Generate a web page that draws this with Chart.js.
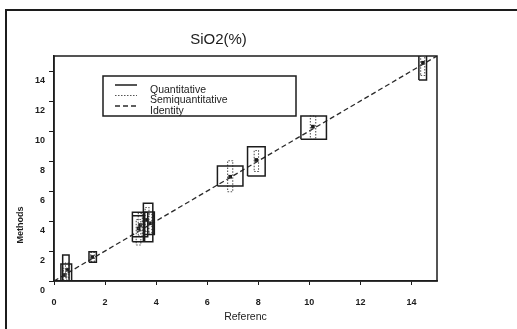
<!DOCTYPE html>
<html>
<head>
<meta charset="utf-8">
<script src="https://cdn.jsdelivr.net/npm/chart.js@4"></script>
<style>
  html, body { margin: 0; padding: 0; background: #fff; }
  #wrap { width: 517px; height: 329px; }
</style>
</head>
<body>
<div id="wrap"><canvas id="chart" width="517" height="329"></canvas></div>
<script>
// SiO2(%) - methods vs reference, one entry per sample
var referenc = [0.42, 0.52, 1.50, 3.31, 3.37, 3.64, 3.76, 6.90, 7.92, 10.14, 14.45];
var methods  = [0.40, 0.75, 1.60, 3.50, 3.73, 4.07, 3.85, 6.95, 8.07, 10.29, 14.55];

// quantitative uncertainty boxes
var quantXLow  = [0.27, 0.34, 1.37, 3.07, 3.07, 3.50, 3.55, 6.40, 7.58, 9.67, 14.29];
var quantXHigh = [0.69, 0.59, 1.66, 3.55, 3.67, 3.87, 3.93, 7.40, 8.27, 10.67, 14.59];
var quantYLow  = [0.00, 0.00, 1.25, 2.62, 2.95, 2.62, 3.10, 6.33, 7.00, 9.45, 13.40];
var quantYHigh = [1.13, 1.73, 1.95, 4.35, 4.58, 5.18, 4.60, 7.67, 8.95, 11.00, 15.60];

// semiquantitative boxes
var semiXLow  = [0.36, 0.45, 1.44, 3.22, 3.30, 3.57, 3.70, 6.80, 7.84, 10.04, 14.36];
var semiXHigh = [0.50, 0.58, 1.58, 3.40, 3.46, 3.72, 3.83, 7.00, 8.01, 10.25, 14.52];
var semiYLow  = [0.05, 0.20, 1.30, 2.40, 3.00, 3.30, 3.20, 5.95, 7.30, 9.45, 13.70];
var semiYHigh = [0.85, 1.20, 1.90, 4.10, 4.50, 4.90, 4.45, 8.02, 8.70, 11.00, 15.30];

var identityX = [0, 15];
var identityY = [0, 15];

var xTicks = [0, 2, 4, 6, 8, 10, 12, 14];
var yTicks = [0, 2, 4, 6, 8, 10, 12, 14];

function boxes(xl, xh, yl, yh) {
    var pts = [];
    for (var i = 0; i < xl.length; i++) {
        pts.push({x: xl[i], y: yl[i]}, {x: xh[i], y: yl[i]}, {x: xh[i], y: yh[i]},
                 {x: xl[i], y: yh[i]}, {x: xl[i], y: yl[i]}, {x: null, y: null});
    }
    return pts;
}

function pairs(xs, ys) {
    return xs.map(function (x, i) { return {x: x, y: ys[i]}; });
}

var INK = '#1c1c1c';
var FONT = "'Liberation Sans', Arial, sans-serif";

var framePlugin = {
    id: 'frame',
    beforeDraw: function (chart) {
        var ctx = chart.ctx;
        ctx.save();
        ctx.fillStyle = '#fff';
        ctx.fillRect(0, 0, chart.width, chart.height);
        ctx.strokeStyle = INK;
        ctx.lineWidth = 2;
        ctx.beginPath();
        ctx.moveTo(6, chart.height);
        ctx.lineTo(6, 10);
        ctx.lineTo(chart.width, 10);
        ctx.stroke();
        ctx.restore();
    },
    afterDraw: function (chart) {
        var ctx = chart.ctx, a = chart.chartArea;
        ctx.save();
        ctx.strokeStyle = INK;
        ctx.lineWidth = 1.5;
        ctx.strokeRect(a.left, a.top, a.right - a.left, a.bottom - a.top);

        // y axis title, sits low beside the axis
        ctx.translate(21, 225);
        ctx.rotate(-Math.PI / 2);
        ctx.fillStyle = INK;
        ctx.font = 'bold 9px ' + FONT;
        ctx.textAlign = 'center';
        ctx.textBaseline = 'middle';
        ctx.fillText(chart.options.scales.y.title.text, 0, 0);
        ctx.restore();
    }
};

var boxLegendPlugin = {
    id: 'boxLegend',
    afterDraw: function (chart) {
        var ctx = chart.ctx;
        var x0 = 103, y0 = 76, w = 193, h = 40;
        var rows = [90, 100.5, 111];
        var items = chart.data.datasets.filter(function (d) { return d.inLegend; });
        ctx.save();
        ctx.beginPath();
        ctx.rect(x0, y0, w, h);
        ctx.clip();
        ctx.fillStyle = '#fff';
        ctx.fillRect(x0, y0, w, h);
        items.forEach(function (d, i) {
            var y = rows[i];
            ctx.strokeStyle = d.borderColor;
            ctx.lineWidth = d.borderWidth;
            ctx.setLineDash(d.borderDash || []);
            ctx.beginPath();
            ctx.moveTo(115, y - 5);
            ctx.lineTo(137, y - 5);
            ctx.stroke();
            ctx.setLineDash([]);
            ctx.fillStyle = INK;
            ctx.font = '10.5px ' + FONT;
            ctx.textBaseline = 'middle';
            ctx.fillText(d.label, 150, y);
        });
        ctx.restore();
        ctx.save();
        ctx.strokeStyle = INK;
        ctx.lineWidth = 1.5;
        ctx.strokeRect(x0, y0, w, h);
        ctx.restore();
    }
};

new Chart('chart', {
    type: 'scatter',
    data: {
        datasets: [
            {
                label: 'Quantitative',
                inLegend: true,
                data: boxes(quantXLow, quantXHigh, quantYLow, quantYHigh),
                showLine: true,
                spanGaps: false,
                borderColor: INK,
                borderWidth: 1.5,
                pointRadius: 0
            },
            {
                label: 'Semiquantitative',
                inLegend: true,
                data: boxes(semiXLow, semiXHigh, semiYLow, semiYHigh),
                showLine: true,
                spanGaps: false,
                borderColor: '#555',
                borderWidth: 1.1,
                borderDash: [1.5, 1.5],
                pointRadius: 0
            },
            {
                label: 'Identity',
                inLegend: true,
                data: pairs(identityX, identityY),
                showLine: true,
                borderColor: '#2a2a2a',
                borderWidth: 1.3,
                borderDash: [5, 3],
                pointRadius: 0
            },
            {
                label: 'Samples',
                data: pairs(referenc, methods),
                pointStyle: 'rect',
                pointRadius: 2.6,
                backgroundColor: INK,
                borderColor: INK,
                borderWidth: 0
            }
        ]
    },
    options: {
        responsive: false,
        animation: false,
        events: [],
        layout: { padding: { left: 0, top: 0, right: 80, bottom: 0 } },
        plugins: {
            legend: { display: false },
            tooltip: { enabled: false },
            title: {
                display: true,
                text: 'SiO2(%)',
                color: INK,
                font: { family: FONT, size: 15, weight: 'normal', lineHeight: 1.2 },
                padding: { top: 31, bottom: 7 }
            }
        },
        scales: {
            x: {
                type: 'linear',
                min: 0,
                max: 15,
                afterFit: function (s) { s.height = 48; },
                afterBuildTicks: function (s) { s.ticks = xTicks.map(function (v) { return {value: v}; }); },
                grid: { display: true, drawOnChartArea: false, drawTicks: true, tickLength: 4, color: INK, lineWidth: 1 },
                border: { display: true, color: INK, width: 1.5 },
                ticks: { color: INK, padding: 12, font: { family: FONT, size: 9, weight: 'bold' } },
                title: {
                    display: true,
                    text: 'Referenc',
                    color: INK,
                    font: { family: FONT, size: 10.5, weight: 'normal', lineHeight: 1.2 },
                    padding: { top: 0, bottom: 6 }
                }
            },
            y: {
                type: 'linear',
                min: 0,
                max: 15,
                afterFit: function (s) { s.width = 54; },
                afterBuildTicks: function (s) { s.ticks = yTicks.map(function (v) { return {value: v}; }); },
                grid: { display: true, drawOnChartArea: false, drawTicks: true, tickLength: 5, color: INK, lineWidth: 1 },
                border: { display: true, color: INK, width: 1.5 },
                ticks: { color: INK, padding: 4, labelOffset: 10, font: { family: FONT, size: 9, weight: 'bold' } },
                title: { display: false, text: 'Methods' }
            }
        }
    },
    plugins: [framePlugin, boxLegendPlugin]
});
</script>
</body>
</html>
